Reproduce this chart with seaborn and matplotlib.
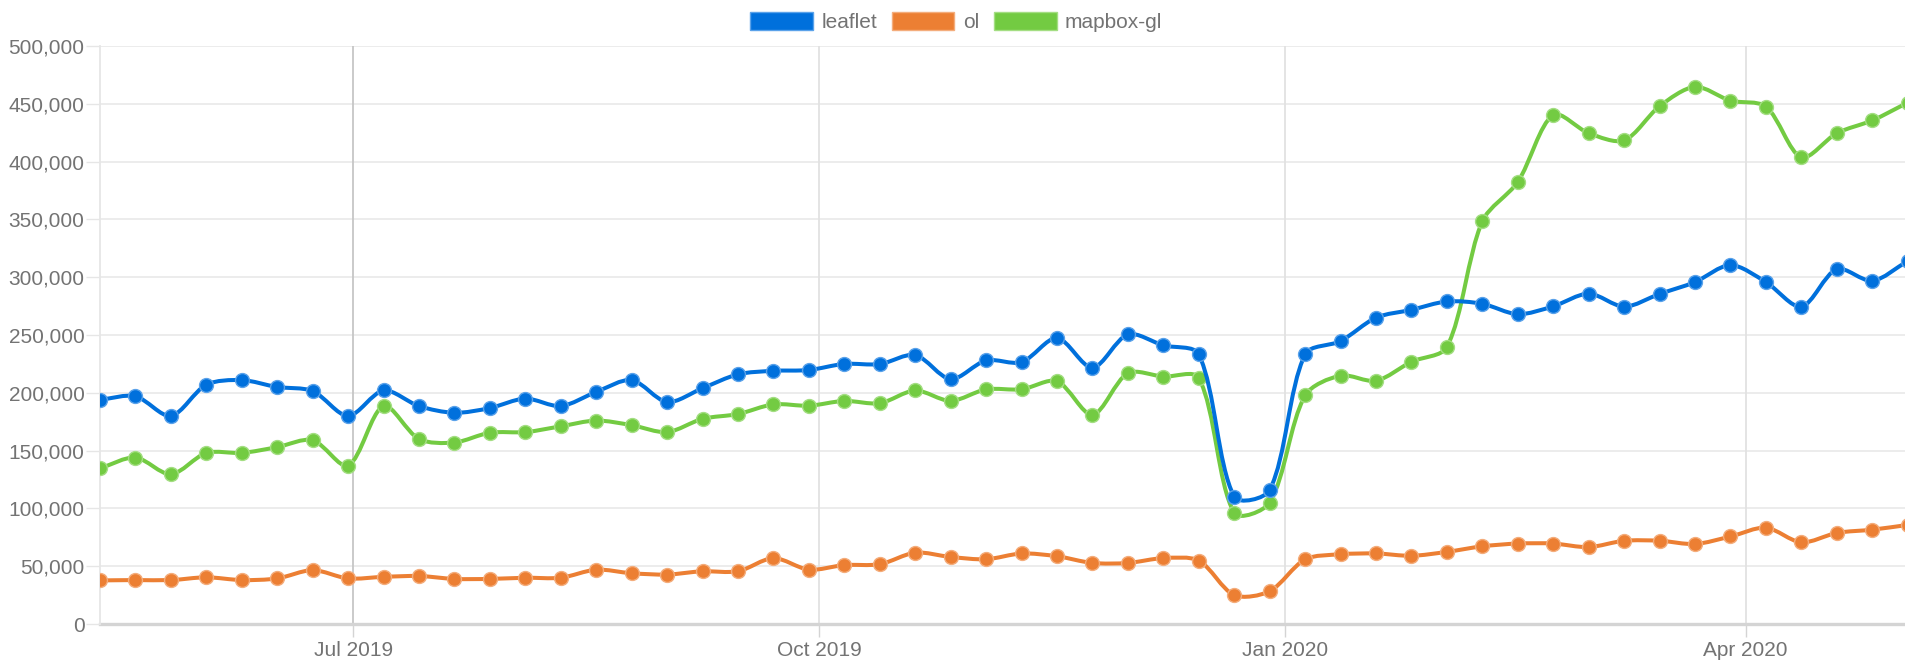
import numpy as np
import pandas as pd
import matplotlib
matplotlib.use("Agg")
import matplotlib.pyplot as plt
import matplotlib.dates as mdates
from matplotlib.path import Path
from matplotlib.patches import PathPatch, Patch
from matplotlib.ticker import FuncFormatter, FixedLocator
import seaborn as sns

# ---------------- data ----------------
week_start = "2019-05-12"
n_weeks = 52
packages = ["leaflet", "ol", "mapbox-gl"]

leaflet = [194000, 197000, 180000, 207000, 211000, 205000, 201500, 180000, 202000, 188500,
           182700, 186800, 195000, 188500, 200800, 211000, 192000, 204000, 216000, 219000,
           219700, 225000, 224800, 232700, 211800, 228000, 226500, 247400, 221700, 250500,
           241000, 233400, 110000, 115800, 233400, 244700, 265000, 271800, 279000, 277000,
           268000, 274800, 285800, 274500, 285500, 295800, 310500, 295800, 274500, 307000,
           296800, 314000]

ol = [37700, 38000, 38000, 40400, 38000, 39400, 46600, 39400, 40800, 41500,
      39000, 39000, 40000, 40000, 47000, 43900, 42800, 45600, 45600, 57000,
      47000, 51000, 51700, 61700, 58000, 56000, 61000, 58600, 52800, 52800,
      57000, 54800, 25000, 28400, 55900, 60300, 61000, 59000, 62400, 67200,
      69600, 69600, 66500, 72000, 72000, 69200, 75700, 83300, 70600, 78800,
      81600, 85700]

mapbox_gl = [134700, 144000, 129500, 148000, 148000, 153000, 159000, 137000, 188500, 160000,
             157000, 165500, 166000, 171000, 176000, 172000, 166000, 177500, 181600, 190000,
             188800, 193000, 191000, 202000, 193000, 203000, 203000, 210000, 181000, 217000,
             214000, 213000, 96000, 105000, 197700, 214900, 210400, 226900, 239500, 348500,
             382400, 440400, 424600, 418400, 447900, 464700, 452700, 447600, 403700, 424600,
             435600, 451000]

month_ticks = ["2019-07-01", "2019-10-01", "2020-01-01", "2020-04-01"]
month_labels = ["Jul 2019", "Oct 2019", "Jan 2020", "Apr 2020"]
y_ticks = [0, 50000, 100000, 150000, 200000, 250000, 300000, 350000, 400000, 450000, 500000]

colors = {"leaflet": "#0070dc", "ol": "#ec7f33", "mapbox-gl": "#73cb42"}
edge_colors = {"leaflet": "#5aa2ea", "ol": "#f4ad7c", "mapbox-gl": "#a4de83"}

dates = pd.date_range(week_start, periods=n_weeks, freq="7D")
df = pd.DataFrame({"date": dates, "leaflet": leaflet, "ol": ol, "mapbox-gl": mapbox_gl})
long_df = df.melt(id_vars="date", var_name="package", value_name="downloads")

# ---------------- style ----------------
sns.set_style("white")
plt.rcParams["font.family"] = ["Liberation Sans", "DejaVu Sans"]
text_color = "#737373"
fs = 15

fig = plt.figure(figsize=(19.05, 6.6), dpi=100)
W, H = 1905, 660
ax = fig.add_axes([100 / W, 1 - 624 / H, 1805 / W, (624 - 46) / H])

x0 = mdates.date2num(dates[0])
xlim = (x0, x0 + 1805 / 5.0636)
ax.set_xlim(*xlim)
ax.set_ylim(0, 500000)


def chartjs_path(ax, xs, ys, tension=0.3):
    pts = ax.transData.transform(np.column_stack([xs, ys]))
    n = len(pts)
    cp_prev = np.zeros_like(pts)
    cp_next = np.zeros_like(pts)
    for i in range(n):
        prev = pts[i - 1] if i > 0 else pts[i]
        cur = pts[i]
        nxt = pts[i + 1] if i < n - 1 else pts[i]
        d01 = np.hypot(*(cur - prev))
        d12 = np.hypot(*(nxt - cur))
        tot = d01 + d12
        s01 = d01 / tot if tot else 0.0
        s12 = d12 / tot if tot else 0.0
        cp_prev[i] = cur - tension * s01 * (nxt - prev)
        cp_next[i] = cur + tension * s12 * (nxt - prev)
    verts = [pts[0]]
    codes = [Path.MOVETO]
    for i in range(n - 1):
        verts += [cp_next[i], cp_prev[i + 1], pts[i + 1]]
        codes += [Path.CURVE4] * 3
    verts = ax.transData.inverted().transform(np.array(verts))
    return Path(verts, codes)


xnum = mdates.date2num(dates)
# Chart.js draws the first dataset on top
for z, pkg in zip([3, 2, 1], packages):
    sub = long_df[long_df["package"] == pkg]
    path = chartjs_path(ax, xnum, sub["downloads"].to_numpy())
    ax.add_patch(PathPatch(path, fill=False, edgecolor=colors[pkg], lw=2.9,
                           capstyle="round", joinstyle="round", zorder=z * 2))
    sns.scatterplot(data=sub, x="date", y="downloads", color=colors[pkg], s=100,
                    edgecolor=edge_colors[pkg], linewidth=1.0, ax=ax, legend=False,
                    zorder=z * 2 + 1)

ax.set_xlim(*xlim)
ax.set_ylim(0, 500000)

# ticks, grid, axes
ax.yaxis.set_major_locator(FixedLocator(y_ticks))
ax.yaxis.set_major_formatter(FuncFormatter(lambda v, p: f"{int(v):,}"))
tick_nums = mdates.date2num(pd.to_datetime(month_ticks))
ax.xaxis.set_major_locator(FixedLocator(tick_nums))
ax.set_xticklabels(month_labels)
ax.set_xlabel("")
ax.set_ylabel("")

for v in y_ticks[1:]:
    ax.axhline(v, color="#ebebeb", lw=1.3, zorder=0)
for k, t in enumerate(tick_nums):
    ax.axvline(t, color="#c6c6c6" if k == 0 else "#e2e2e2", lw=1.3, zorder=0)

for s in ["top", "right"]:
    ax.spines[s].set_visible(False)
ax.spines["left"].set_color("#e6e6e6")
ax.spines["left"].set_linewidth(1.3)
ax.spines["bottom"].set_color("#d4d4d4")
ax.spines["bottom"].set_linewidth(2.4)
ax.spines["bottom"].set_zorder(0.5)

ax.tick_params(axis="y", length=10.0, width=1.0, color="#e6e6e6", pad=1.2,
               labelsize=fs, labelcolor=text_color, left=True)
ax.tick_params(axis="x", length=9.5, width=1.0, color="#d4d4d4", pad=3,
               labelsize=fs, labelcolor=text_color, bottom=True)

# legend
handles = [Patch(facecolor=colors[p], edgecolor=edge_colors[p], lw=1.0, label=p)
           for p in packages]
fig.legend(handles=handles, loc="center", bbox_to_anchor=(0.502, 1 - 22 / H), ncol=3,
           frameon=False, fontsize=fs, labelcolor=text_color,
           handlelength=3.0, handleheight=1.0, handletextpad=0.4, columnspacing=0.72,
           borderpad=0, borderaxespad=0)

fig.savefig("out.png", dpi=100)
